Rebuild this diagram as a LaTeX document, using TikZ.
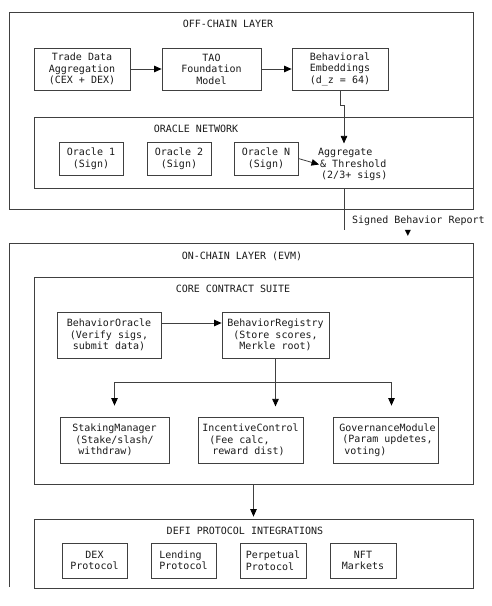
\documentclass[tikz,border=0pt]{standalone}
\usepackage{fontspec}
\setmonofont{DejaVu Sans Mono}
\newfontfamily\symbfont{DejaVu Sans}
\usepackage{xcolor}
\usetikzlibrary{positioning,arrows.meta}
\definecolor{inkline}{HTML}{404040}
\definecolor{inktext}{HTML}{1A1A1A}

\begin{document}
\begin{tikzpicture}[
            x=1pt, y=-1pt,
            font=\ttfamily\fontsize{10}{11.5}\selectfont,
            text=inktext,
            frame/.style={draw=inkline, line width=0.8pt, inner sep=0pt},
            box/.style={draw=inkline, line width=0.8pt, inner sep=0pt, align=center},
            title/.style={inner sep=0pt},
            wire/.style={draw=inkline, line width=0.8pt},
            arr/.style={wire, -{Triangle[width=6.5pt,length=7.5pt,color=black]}}
        ]
            \useasboundingbox (0,0) rectangle (491,606);
            % Layers
            \node[frame, minimum width=464pt, minimum height=197pt] (off) at (241,110.5) {};
            \node[frame, minimum width=439pt, minimum height=71pt] (net) at (253.5,152.5) {};
            \draw[wire] (9,587) |- (473,243) -- (473,277); % on-chain layer, open at the bottom
            \node[frame, minimum width=439pt, minimum height=207pt] (core) at (253.5,380.5) {};
            \node[frame, minimum width=439pt, minimum height=69pt] (defi) at (253.5,553.5) {};
            % Titles
            \node[title] (offt) at (228,24) {OFF-CHAIN LAYER};
            \node[title] (nett) at (196,129) {ORACLE NETWORK};
            \node[title] (ont) at (242,256) {ON-CHAIN LAYER (EVM)};
            \node[title] (coret) at (233,289) {CORE CONTRACT SUITE};
            \node[title] (defit) at (245,531) {DEFI PROTOCOL INTEGRATIONS};
            \begin{scope}[
                every node/.style={box}
            ]
                % Off-chain
                \node[minimum width=96pt, minimum height=42pt] (trade) at (82,69) {Trade Data\\Aggregation\\(CEX + DEX)};
                \node[minimum width=99pt, minimum height=42pt] (tao) at (211.5,69) {TAO\\Foundation\\Model};
                \node[minimum width=96pt, minimum height=42pt] (emb) at (340,69) {Behavioral\\Embeddings\\(d\_z = 64)};
                % Oracles
                \node[minimum width=64pt, minimum height=33pt] (or1) at (91,158.5) {Oracle 1\\(Sign)};
                \node[minimum width=64pt, minimum height=33pt] (or2) at (179,158.5) {Oracle 2\\(Sign)};
                \node[minimum width=64pt, minimum height=33pt] (orN) at (266,158.5) {Oracle N\\(Sign)};
                % Contracts
                \node[minimum width=104pt, minimum height=46pt] (bo) at (109,335) {BehaviorOracle\\(Verify sigs,\\submit data)};
                \node[minimum width=107pt, minimum height=46pt] (br) at (275.5,335) {BehaviorRegistry\\(Store scores,\\Merkle root)};
                \node[minimum width=109pt, minimum height=46pt, align=left] (stk) at (114.5,440) {StakingManager\\\hspace*{3pt}(Stake/slash/\\\hspace*{6pt}withdraw)};
                \node[minimum width=105pt, minimum height=46pt, align=left] (inc) at (250.5,440) {IncentiveControl\\\hspace*{7pt}(Fee calc,\\\hspace*{10pt}reward dist)};
                \node[minimum width=105pt, minimum height=46pt, align=left] (gov) at (385.5,440) {\hspace*{4pt}GovernanceModule\\\hspace*{7pt}(Param updetes,\\\hspace*{9pt}voting)};
                % DeFi
                \node[minimum width=65pt, minimum height=35pt] (dex) at (94.5,560.5) {DEX\\Protocol};
                \node[minimum width=65pt, minimum height=35pt, align=left] (lend) at (183.5,560.5) {Lending\\Protocol};
                \node[minimum width=66pt, minimum height=35pt, align=left] (perp) at (273,560.5) {Perpetual\\Protocol};
                \node[minimum width=66pt, minimum height=35pt] (nft) at (363,560.5) {NFT\\Markets};
            \end{scope}
            \node[title, anchor=west, align=left] (agg) at (318,164.5) {Aggregate\\\hspace*{2pt}\&~Threshold\\\hspace*{3pt}(2/3+ sigs)};
            \node[title, anchor=west] (rep) at (352,221) {Signed Behavior Report};
            \node[title, text=black, font=\symbfont\fontsize{8}{8}\selectfont] (tip) at (408,233) {▼};
            \coordinate (out) at (344,188);
            \coordinate (outend) at (344,230);
            % Edges
            \draw[arr] (trade) -- (tao);
            \draw[arr] (tao) -- (emb);
            \draw[arr] (emb.south) -- ++(0,15) -- ++(4,0) -- ++(0,38);
            \draw[arr] (orN.east) -- ([xshift=1pt]agg.west);
            \draw[wire] (out) -- (outend);
            \draw[arr] ([yshift=12pt]bo.east) -- ([yshift=12pt]br.west);
            \draw[wire] (br.south) -- ++(0,24) coordinate (jn);
            \draw[arr] (jn) -- ++(0,24);
            \draw[arr] (jn) -| ([yshift=11pt]stk.north);
            \draw[arr] (jn) -| ([xshift=6pt,yshift=11pt]gov.north);
            \draw[arr] (core.south) -- ([yshift=2pt]defi.north);
        \end{tikzpicture}
\end{document}
